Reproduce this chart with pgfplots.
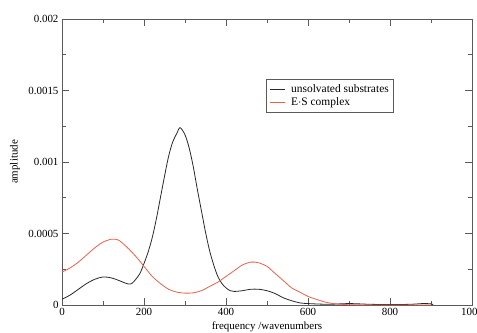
\documentclass[border=0pt]{standalone}
\usepackage{fontspec}
\setmainfont{Liberation Serif}
\usepackage{pgfplots}
\pgfplotsset{compat=1.18}
\definecolor{curveblack}{RGB}{40,40,40}
\definecolor{curvered}{RGB}{235,95,75}
\definecolor{framegray}{RGB}{90,90,90}
\begin{document}
\begin{tikzpicture}
\begin{axis}[
  scale only axis, width=410bp, height=286bp,
  xmin=0, xmax=1000, ymin=0, ymax=0.002,
  xtick={0,200,400,600,800,1000}, minor x tick num=1,
  ytick={0,0.0005,0.001,0.0015,0.002}, minor y tick num=1,
  tick align=inside, major tick length=7bp, minor tick length=4bp,
  every tick/.style={framegray, line width=0.7bp},
  axis line style={framegray, line width=0.8bp},
  scaled y ticks=false, scaled x ticks=false,
  xticklabel style={/pgf/number format/1000 sep={}},
  yticklabel style={/pgf/number format/fixed,/pgf/number format/precision=4},
  /pgf/number format/assume math mode=true,
  ticklabel style={font=\fontsize{11}{13}\selectfont},
  label style={font=\fontsize{11}{13}\selectfont},
  xlabel={frequency /wavenumbers}, ylabel={amplitude},
  xlabel style={at={(axis description cs:0.5,-0.0874)}, anchor=base},
  ylabel style={at={(axis description cs:-0.1146,0.5)}, anchor=center},
  legend style={at={(axis description cs:0.4976,0.79)}, anchor=north west,
    draw=framegray, line width=0.6bp, fill=white,
    font=\fontsize{11.5}{13.5}\selectfont, cells={anchor=west},
    inner xsep=3bp, inner ysep=3.5bp, row sep=-0.5bp, column sep=4bp},
  legend image code/.code={\draw[#1] (0bp,0bp) -- (15bp,0bp);},
]
\addplot[curveblack, line width=0.8bp, smooth] coordinates {
(0,0.00004) (20,0.00007) (40,0.00011) (60,0.00015) (80,0.00018) (100,0.000196)
(120,0.00019) (140,0.00017) (160,0.000148) (170,0.00015) (180,0.00018) (190,0.00022)
(200,0.00029) (210,0.00037) (220,0.00047) (230,0.0006) (240,0.00075) (250,0.0009)
(260,0.00104) (270,0.00114) (280,0.0012) (288,0.00124) (300,0.00119) (310,0.0011)
(320,0.00097) (330,0.00081) (340,0.00066) (350,0.00051) (360,0.00038) (370,0.00028)
(380,0.0002) (390,0.00015) (400,0.00012) (410,0.0001) (420,0.000095) (440,0.0001)
(460,0.00011) (480,0.00011) (500,0.0001) (520,0.00008) (540,0.00005) (560,0.00003)
(580,0.000015) (600,0.00001) (650,0.000005) (700,0.00001) (750,0.000005) (800,0.000003)
(850,0.000005) (880,0.00001) (900,0.000008) (905,0.000002)
};
\addlegendentry{unsolvated substrates}
\addplot[curvered, line width=0.8bp, smooth] coordinates {
(0,0.00023) (20,0.00026) (40,0.0003) (60,0.00035) (80,0.0004) (100,0.00044)
(120,0.00046) (130,0.00046) (140,0.00045) (160,0.0004) (180,0.00034) (200,0.00027)
(220,0.0002) (240,0.00015) (260,0.00011) (280,0.00009) (300,0.000083) (320,0.000085)
(340,0.0001) (360,0.00013) (380,0.00016) (400,0.0002) (420,0.00024) (440,0.00028)
(460,0.0003) (470,0.0003) (480,0.000295) (500,0.00027) (520,0.00022) (540,0.00017)
(560,0.00012) (580,0.00009) (600,0.00006) (620,0.00004) (640,0.000022) (660,0.00001)
(680,0.000005) (700,0.000002) (750,0) (800,0) (900,0)
};
\addlegendentry{E$\cdot$S complex}
\coordinate (sw) at (rel axis cs:0,0);
\coordinate (ne) at (rel axis cs:1,1);
\end{axis}
\pgfresetboundingbox
\path[use as bounding box] ([xshift=-62bp,yshift=-28bp]sw) rectangle ([xshift=5bp,yshift=19bp]ne);
\end{tikzpicture}
\end{document}
